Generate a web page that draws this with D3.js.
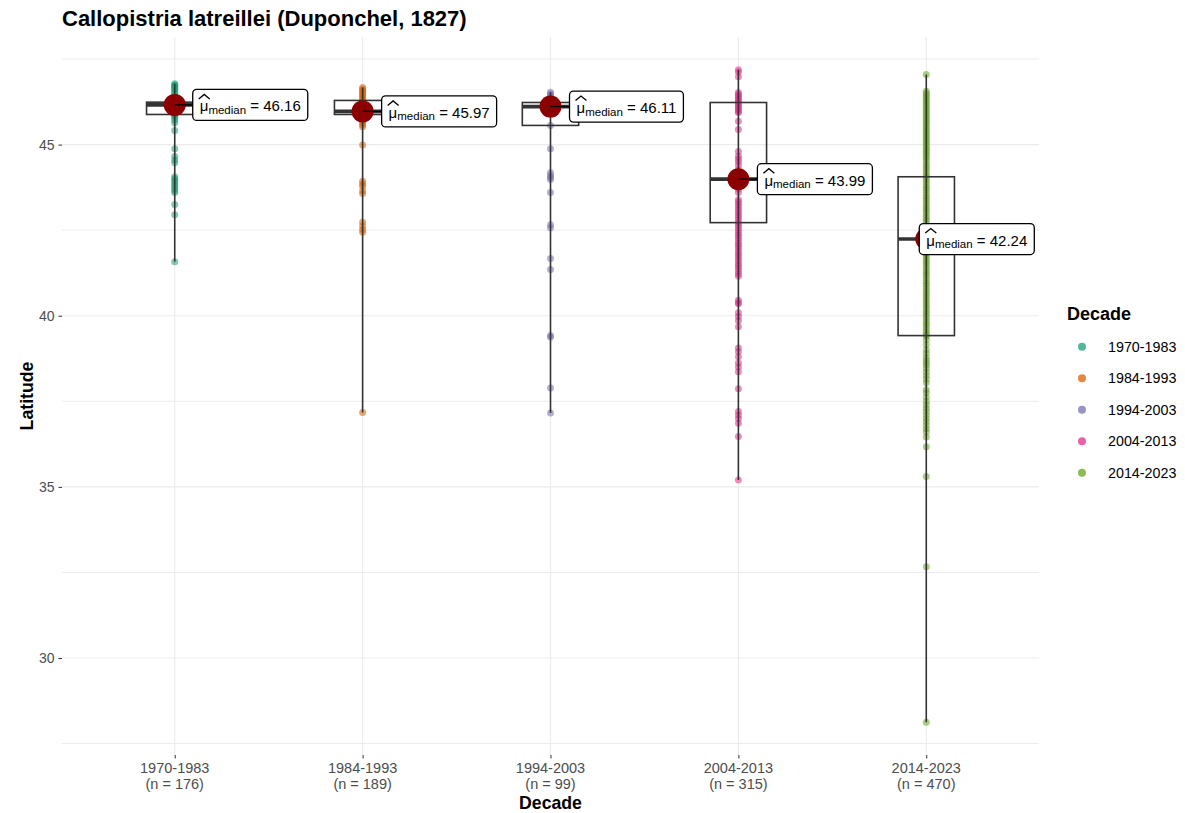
<!DOCTYPE html>
<html><head><meta charset="utf-8">
<script src="https://cdn.jsdelivr.net/npm/d3@7"></script>
<style>
body{margin:0;background:#fff;}
svg{font-family:"Liberation Sans",Arial,Helvetica,sans-serif;}
</style></head>
<body><svg id="c" width="1185" height="813"></svg>
<script>
const categories = ["1970-1983","1984-1993","1994-2003","2004-2013","2014-2023"];
const counts = [176,189,99,315,470];
const colors = ["#1B9E77","#D95F02","#7570B3","#E7298A","#66A61E"];
const medians = [46.16,45.97,46.11,43.99,42.24];
const q1 = [45.88,45.88,45.56,42.72,39.42];
const q3 = [46.24,46.29,46.23,46.23,44.06];
const mins = [41.58,37.17,37.16,35.20,28.12];
const maxs = [46.78,46.67,46.53,47.19,47.05];
const yTicks = [30,35,40,45];
const yMinor = [27.5,32.5,37.5,42.5,47.5];

const pts1970 = [46.78,46.75,46.72,46.70,46.66,46.63,46.61,46.55,46.50,46.46,46.40,46.35,46.32,46.28,46.24,46.20,46.17,46.16,46.12,46.08,46.02,45.98,45.95,45.90,45.88,45.83,45.79,45.72,45.64,45.41,44.88,44.65,44.55,44.47,44.06,44.00,43.95,43.90,43.83,43.78,43.71,43.65,43.60,43.25,42.95,41.58];
const pts1984 = [46.67,46.62,46.58,46.53,46.48,46.43,46.38,46.33,46.28,46.22,46.18,46.12,46.07,46.02,45.97,45.92,45.87,45.82,45.76,45.70,45.64,45.58,45.52,44.99,43.93,43.85,43.78,43.65,43.57,42.73,42.62,42.52,42.44,37.17];
const pts1994 = [46.53,46.48,46.44,46.38,46.30,46.25,46.20,46.15,46.11,46.06,45.56,44.88,44.18,44.10,44.04,43.98,43.60,42.66,42.57,41.67,41.35,39.42,39.38,37.89,37.16];
const pts2004 = [47.19,47.12,46.98,46.52,46.47,46.42,46.37,46.32,46.27,46.22,46.17,46.12,46.07,46.02,45.97,45.94,45.68,45.44,44.80,44.66,44.58,44.50,44.40,44.27,44.15,44.08,43.99,43.90,43.80,43.70,43.60,43.39,43.32,43.25,43.18,43.10,43.02,42.95,42.88,42.80,42.72,42.65,42.58,42.50,42.42,42.35,42.28,42.20,42.12,42.05,41.98,41.90,41.82,41.75,41.68,41.60,41.52,41.45,41.38,41.30,41.22,41.15,40.45,40.38,40.35,40.09,39.98,39.85,39.68,39.06,38.95,38.80,38.62,38.50,38.36,37.87,37.20,37.10,37.00,36.86,36.47,35.20];
const pts2014 = [47.05,46.56,46.50,46.44,46.38,46.32,46.26,46.20,46.14,46.08,46.02,45.96,45.90,45.84,45.78,45.72,45.66,45.60,45.54,45.48,45.42,45.36,45.30,45.24,45.18,45.12,45.06,45.00,44.94,44.88,44.82,44.76,44.70,44.64,44.58,44.50,44.42,44.35,44.28,44.20,44.12,44.05,43.97,43.90,43.82,43.75,43.68,43.60,43.52,43.45,43.38,43.30,43.22,43.15,43.08,43.00,42.92,42.85,42.78,42.70,42.62,42.55,42.48,42.40,42.32,42.24,42.16,42.08,42.00,41.92,41.85,41.78,41.70,41.62,41.55,41.48,41.40,41.32,41.25,41.18,41.10,41.02,40.95,40.88,40.80,40.72,40.65,40.58,40.50,40.42,40.35,40.28,40.20,40.12,40.05,39.98,39.90,39.82,39.75,39.68,39.60,39.52,39.45,39.40,39.30,39.15,39.00,38.90,38.78,38.70,38.62,38.55,38.45,38.35,38.25,38.15,38.04,37.84,37.75,37.62,37.50,37.40,37.30,37.20,37.10,37.00,36.90,36.80,36.70,36.60,36.46,36.17,35.30,32.67,28.12];
const points = [pts1970,pts1984,pts1994,pts2004,pts2014];

const svg = d3.select("#c");
const P = {l:62, r:1039, t:37, b:755};
const x = d3.scalePoint().domain(categories).range([P.l,P.r]).padding(0.6);
const step = x.step();
const lo = d3.min(mins), hi = d3.max(maxs), ex = (hi-lo)*0.05;
const y = d3.scaleLinear().domain([lo-ex, hi+ex]).range([P.b,P.t]);

// grid
const g = svg.append("g");
yMinor.forEach(v=>{ if(y(v)>=P.t&&y(v)<=P.b) g.append("line").attr("x1",P.l).attr("x2",P.r).attr("y1",y(v)).attr("y2",y(v)).attr("stroke","#ebebeb").attr("stroke-width",1); });
yTicks.forEach(v=>g.append("line").attr("x1",P.l).attr("x2",P.r).attr("y1",y(v)).attr("y2",y(v)).attr("stroke","#ebebeb").attr("stroke-width",1.1));
categories.forEach(c=>g.append("line").attr("x1",x(c)).attr("x2",x(c)).attr("y1",P.t).attr("y2",P.b).attr("stroke","#ebebeb").attr("stroke-width",1.1));

// axes
const yAxis = svg.append("g").attr("transform",`translate(${P.l},0)`).call(d3.axisLeft(y).tickValues(yTicks).tickSize(3.5).tickPadding(4));
yAxis.select(".domain").remove();
yAxis.selectAll("line").attr("stroke","#333");
yAxis.selectAll("text").attr("fill","#4d4d4d").style("font-size","14px").style("font-family","Liberation Sans, Arial, sans-serif");
const xAxis = svg.append("g").attr("transform",`translate(0,${P.b})`).call(d3.axisBottom(x).tickSize(3.5).tickFormat(()=>""));
xAxis.select(".domain").remove();
xAxis.selectAll("line").attr("stroke","#333");
categories.forEach((c,i)=>{
  const t = svg.append("text").attr("x",x(c)).attr("text-anchor","middle").attr("fill","#4d4d4d").style("font-size","14.5px");
  t.append("tspan").attr("x",x(c)).attr("y",772.5).text(c);
  t.append("tspan").attr("x",x(c)).attr("y",788.5).text(`(n = ${counts[i]})`);
});

// points
categories.forEach((c,i)=>{
  svg.append("g").selectAll("circle").data(points[i]).join("circle")
    .attr("cx",x(c)).attr("cy",d=>y(d)).attr("r",3.5)
    .attr("fill",colors[i]).attr("fill-opacity",0.55);
});
// range lines + boxes
const bw = step*0.3;
categories.forEach((c,i)=>{
  const cx = x(c);
  svg.append("line").attr("x1",cx).attr("x2",cx).attr("y1",y(mins[i])).attr("y2",y(maxs[i])).attr("stroke","#333").attr("stroke-width",1.6);
  svg.append("rect").attr("x",cx-bw/2).attr("width",bw).attr("y",y(q3[i])).attr("height",y(q1[i])-y(q3[i]))
    .attr("fill","none").attr("stroke","#333").attr("stroke-width",1.6);
  svg.append("line").attr("x1",cx-bw/2).attr("x2",cx+bw/2).attr("y1",y(medians[i])).attr("y2",y(medians[i])).attr("stroke","#333").attr("stroke-width",3.6);
});
// median points
categories.forEach((c,i)=>{
  svg.append("circle").attr("cx",x(c)).attr("cy",y(medians[i])).attr("r",11).attr("fill","#8B0000");
});
// labels
const labelDx = [18,19,19,19,-7];
categories.forEach((c,i)=>{
  const cx = x(c), cy = y(medians[i]);
  const lx = cx + labelDx[i];
  if(labelDx[i]>0) svg.append("line").attr("x1",cx).attr("x2",lx).attr("y1",cy).attr("y2",cy).attr("stroke","#000").attr("stroke-width",1.3);
  const lg = svg.append("g");
  const rect = lg.append("rect");
  const t = lg.append("text").attr("x",lx+7).attr("y",cy+6.5).attr("fill","#000").style("font-size","15px");
  t.append("tspan").text("μ");
  t.append("tspan").attr("dy",2.5).style("font-size","11.5px").text("median");
  t.append("tspan").attr("dy",-2.5).text(" = " + medians[i].toFixed(2));
  const bb = t.node().getBBox();
  const w = bb.width + 14;
  rect.attr("x",lx).attr("y",cy-15.5).attr("width",w).attr("height",31).attr("rx",4)
    .attr("fill","#fff").attr("stroke","#000").attr("stroke-width",1.3);
  lg.append("path").attr("d",`M${lx+6},${cy-6} L${lx+11.5},${cy-10.5} L${lx+17},${cy-6}`)
    .attr("fill","none").attr("stroke","#000").attr("stroke-width",1.3);
});

// title
svg.append("text").attr("x",62).attr("y",26).attr("font-weight","bold").style("font-size","22px").attr("fill","#000").text("Callopistria latreillei (Duponchel, 1827)");
// axis titles
svg.append("text").attr("x",(P.l+P.r)/2).attr("y",808.5).attr("text-anchor","middle").attr("font-weight","bold").style("font-size","17.7px").text("Decade");
svg.append("text").attr("transform",`translate(33,${(P.t+P.b)/2}) rotate(-90)`).attr("text-anchor","middle").attr("font-weight","bold").style("font-size","17.7px").text("Latitude");

// legend
svg.append("text").attr("x",1067).attr("y",320).attr("font-weight","bold").style("font-size","18px").text("Decade");
categories.forEach((c,i)=>{
  const ly = 346.7 + i*31.5;
  svg.append("circle").attr("cx",1082).attr("cy",ly).attr("r",4).attr("fill",colors[i]).attr("fill-opacity",0.75);
  svg.append("text").attr("x",1108).attr("y",ly+5).style("font-size","14.3px").attr("fill","#000").text(c);
});
</script></body></html>
